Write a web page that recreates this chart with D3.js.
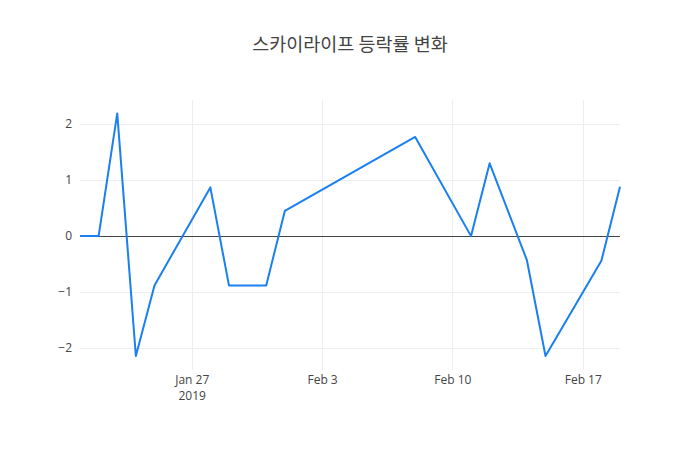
<!DOCTYPE html>
<html>
<head>
<meta charset="utf-8">
<script src="https://cdn.jsdelivr.net/npm/d3@7"></script>
<style>
  body { margin: 0; background: #fff; }
  svg { display: block; font-family: "Open Sans", "Noto Sans CJK KR", sans-serif; }
</style>
</head>
<body>
<svg id="chart" width="700" height="450"></svg>
<script>
const title = "스카이라이프 등락률 변화";

// trading days and daily change (%)
const dates = [
  "2019-01-21", "2019-01-22", "2019-01-23", "2019-01-24", "2019-01-25",
  "2019-01-28", "2019-01-29", "2019-01-31", "2019-02-01", "2019-02-08",
  "2019-02-11", "2019-02-12", "2019-02-14", "2019-02-15", "2019-02-18",
  "2019-02-19",
];
const changes = [
  0, 0, 2.19, -2.14, -0.88,
  0.87, -0.88, -0.88, 0.45, 1.77,
  0, 1.3, -0.43, -2.14, -0.44,
  0.88,
];

const yTicks = [-2, -1, 0, 1, 2];
const xTicks = ["2019-01-27", "2019-02-03", "2019-02-10", "2019-02-17"];

const width = 700, height = 450;
const margin = { top: 100, right: 80, bottom: 80, left: 80 };

const parse = d3.utcParse("%Y-%m-%d");
const data = dates.map((d, i) => ({ date: parse(d), value: changes[i] }));

const svg = d3.select("#chart");

const x = d3.scaleUtc()
  .domain(d3.extent(data, (d) => d.date))
  .range([margin.left, width - margin.right]);

const y = d3.scaleLinear()
  .domain([-2.39, 2.43])
  .range([height - margin.bottom, margin.top]);

const px = (v) => Math.round(v) + 0.5;

// gridlines
svg.append("g")
  .selectAll("line")
  .data(xTicks.map(parse))
  .join("line")
  .attr("x1", (d) => px(x(d)))
  .attr("x2", (d) => px(x(d)))
  .attr("y1", margin.top)
  .attr("y2", height - margin.bottom)
  .attr("stroke", "#eee");

svg.append("g")
  .selectAll("line")
  .data(yTicks.filter((t) => t !== 0))
  .join("line")
  .attr("x1", margin.left)
  .attr("x2", width - margin.right)
  .attr("y1", (d) => px(y(d)))
  .attr("y2", (d) => px(y(d)))
  .attr("stroke", "#eee");

// zero line
svg.append("line")
  .attr("x1", margin.left)
  .attr("x2", width - margin.right)
  .attr("y1", px(y(0)))
  .attr("y2", px(y(0)))
  .attr("stroke", "#444");

// axes (text only, like plotly)
const fmtMinus = (v) => (v < 0 ? "\u2212" + Math.abs(v) : String(v));

const yAxis = svg.append("g")
  .attr("transform", `translate(${margin.left},0)`)
  .call(d3.axisLeft(y).tickValues(yTicks).tickSize(0).tickPadding(8).tickFormat(fmtMinus));
yAxis.select(".domain").remove();
yAxis.selectAll("text")
  .attr("fill", "#444")
  .style("font-size", "12px")
  .style("font-family", "'Open Sans', sans-serif");

const fmtDate = d3.utcFormat("%b %-d");
const xAxis = svg.append("g")
  .attr("transform", `translate(0,${height - margin.bottom})`)
  .call(d3.axisBottom(x).tickValues(xTicks.map(parse)).tickSize(0).tickPadding(5).tickFormat(fmtDate));
xAxis.select(".domain").remove();
xAxis.selectAll("text")
  .attr("fill", "#444")
  .style("font-size", "12px")
  .style("font-family", "'Open Sans', sans-serif");
// year under the first tick
xAxis.selectAll(".tick")
  .filter((d, i) => i === 0)
  .append("text")
  .attr("y", 21)
  .attr("dy", "0.71em")
  .attr("fill", "#444")
  .style("font-size", "12px")
  .style("font-family", "'Open Sans', sans-serif")
  .text("2019");

// line
const line = d3.line()
  .x((d) => x(d.date))
  .y((d) => y(d.value));

svg.append("path")
  .datum(data)
  .attr("fill", "none")
  .attr("stroke", "#1a7ff0")
  .attr("stroke-width", 2)
  .attr("stroke-linejoin", "round")
  .attr("d", line);

// title
svg.append("text")
  .attr("x", width / 2)
  .attr("y", 51)
  .attr("text-anchor", "middle")
  .attr("fill", "#444")
  .style("font-size", "18.5px")
  .style("font-family", "'Noto Sans CJK KR', sans-serif")
  .text(title);
</script>
</body>
</html>
